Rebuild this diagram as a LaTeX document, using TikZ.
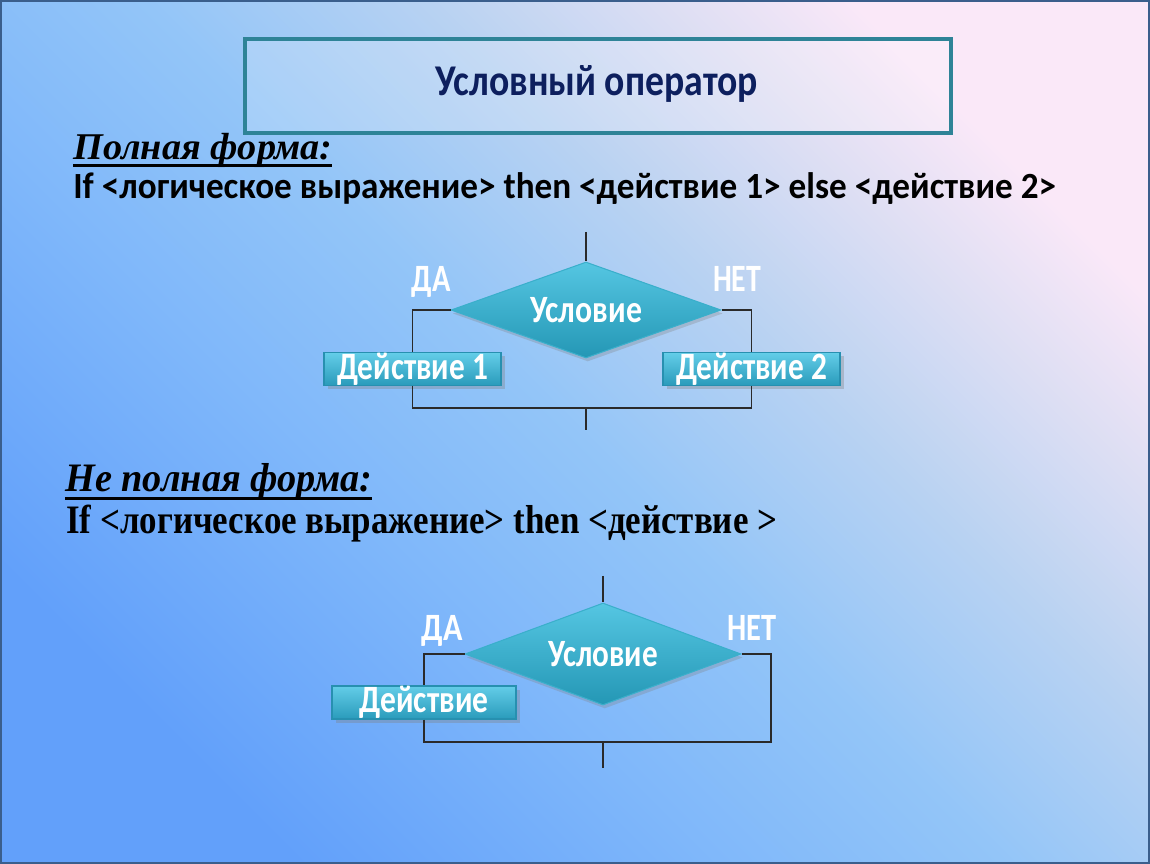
\documentclass[tikz,border=0pt]{standalone}
\usepackage{fontspec}
\usepackage{graphicx}
\usetikzlibrary{shapes.geometric,shadows}
\newfontfamily\calfont{Carlito}
\newfontfamily\tnrfont{Liberation Serif}
\definecolor{bg0}{HTML}{62A0FA}
\definecolor{bg1}{HTML}{80B8FA}
\definecolor{bg2}{HTML}{93C5F8}
\definecolor{bg3}{HTML}{B8D2F2}
\definecolor{bg4}{HTML}{DCDEF3}
\definecolor{bg5}{HTML}{FAE8F8}
\definecolor{borderC}{HTML}{3A5E8C}
\definecolor{titleC}{HTML}{0D1F5E}
\definecolor{titleBox}{HTML}{2E8397}
\definecolor{diaT}{HTML}{55C6E2}
\definecolor{diaB}{HTML}{2497B5}
\definecolor{diaE}{HTML}{3AAFCB}
\definecolor{boxT}{HTML}{63CDE8}
\definecolor{boxB}{HTML}{2A9BBB}
\definecolor{boxE}{HTML}{2790B0}
\definecolor{lineC}{HTML}{2A2A2A}
\pgfdeclareverticalshading{bgsh}{100bp}{color(0bp)=(bg0); color(25bp)=(bg0); color(40bp)=(bg1); color(50bp)=(bg2); color(60bp)=(bg3); color(68bp)=(bg4); color(75bp)=(bg5); color(100bp)=(bg5)}
\newsavebox\ulbox
\newcommand\myul[1]{\sbox\ulbox{#1}\rlap{\usebox\ulbox}\rule[-0.19em]{\wd\ulbox}{0.075em}}
\newcommand\fitw[2]{\resizebox{#1}{\height}{#2}}
\begin{document}
\begin{tikzpicture}[x=0.02cm,y=-0.02cm,
  conn/.style={draw=lineC, line width=0.85pt},
  dia/.style={diamond, shape aspect=2.8, inner sep=0pt,
    top color=diaT, bottom color=diaB, draw=diaE, line width=0.6pt,
    text=white, font=\calfont\bfseries\fontsize{22}{24}\selectfont,
    drop shadow={shadow xshift=1pt, shadow yshift=-2pt, opacity=0.3}},
  act/.style={rectangle, inner sep=0pt,
    top color=boxT, bottom color=boxB, draw=boxE, line width=0.6pt,
    text=white, font=\calfont\bfseries\fontsize{22}{24}\selectfont,
    drop shadow={shadow xshift=2pt, shadow yshift=-2pt, opacity=0.35}},
  lab/.style={anchor=base, text=white, font=\calfont\bfseries\fontsize{22}{24}\selectfont, inner sep=0pt},
  txt/.style={anchor=base west, inner sep=0pt}
]
% background
\shade[shading=bgsh, shading angle=-45] (0,0) rectangle (1150,864);
\useasboundingbox (0,0) rectangle (1150,864);
\draw[borderC, line width=1.2pt] (1,1) rectangle (1149,863);

% title
\node[draw=titleBox, line width=2.27pt, fill=white, fill opacity=0.18,
      minimum width=14.12cm, minimum height=1.88cm, inner sep=0pt] (tbox) at (598,86) {};
\node[anchor=base, inner sep=0pt, text=titleC] (ttext) at (596.5,96)
  {\fitw{6.46cm}{\calfont\bfseries\fontsize{25}{27}\selectfont Условный оператор}};

% full form text
\node[txt] (h1) at (73,160)
  {\fitw{5.18cm}{\tnrfont\bfseries\itshape\fontsize{21.5}{24}\selectfont\myul{Полная форма:}}};
\node[txt] (s1) at (73,199)
  {\fitw{19.66cm}{\calfont\bfseries\fontsize{21}{24}\selectfont If <логическое выражение> then <действие 1> else <действие 2>}};

% diagram 1
\coordinate (t1) at (586,232);
\node[dia, minimum width=5.4cm, minimum height=1.92cm] (d1) at (586,310) {\fitw{2.24cm}{Условие}};
\node[act, minimum width=3.54cm, minimum height=0.64cm] (a1) at (412.5,369) {\fitw{3.02cm}{Действие 1}};
\node[act, minimum width=3.54cm, minimum height=0.64cm] (a2) at (751.5,369) {\fitw{3.02cm}{Действие 2}};
\coordinate (j1) at (586,408);
\coordinate (b1) at (586,430);
\draw[conn] (t1) -- (d1.north);
\draw[conn] (d1.west) -| (a1.north);
\draw[conn] (d1.east) -| (a2.north);
\draw[conn] (a1.south) |- (j1) -| (a2.south);
\draw[conn] (j1) -- (b1);
\node[lab] (da1) at (431,292) {\fitw{0.78cm}{ДА}};
\node[lab] (net1) at (737,292) {\fitw{0.96cm}{НЕТ}};

% incomplete form text
\node[txt] (h2) at (65,492)
  {\fitw{6.14cm}{\tnrfont\bfseries\itshape\fontsize{23}{26}\selectfont\myul{Не полная форма:}}};
\node[txt] (s2) at (66,534)
  {\fitw{14.22cm}{\tnrfont\bfseries\fontsize{23}{26}\selectfont If <логическое выражение> then <действие >}};

% diagram 2
\coordinate (t2) at (603,576);
\node[dia, minimum width=5.52cm, minimum height=2.04cm] (d2) at (603,654) {\fitw{2.2cm}{Условие}};
\node[act, minimum width=3.68cm, minimum height=0.66cm] (a3) at (424,702.5) {\fitw{2.58cm}{Действие}};
\coordinate (j2) at (603,742);
\coordinate (r2) at (771,742);
\coordinate (b2) at (603,768);
\draw[conn] (t2) -- (d2.north);
\draw[conn] (d2.west) -| (a3.north);
\draw[conn] (a3.south) |- (j2);
\draw[conn] (d2.east) -| (r2) -- (j2);
\draw[conn] (j2) -- (b2);
\node[lab] (da2) at (442,641) {\fitw{0.82cm}{ДА}};
\node[lab] (net2) at (752,641) {\fitw{0.98cm}{НЕТ}};
\end{tikzpicture}
\end{document}
